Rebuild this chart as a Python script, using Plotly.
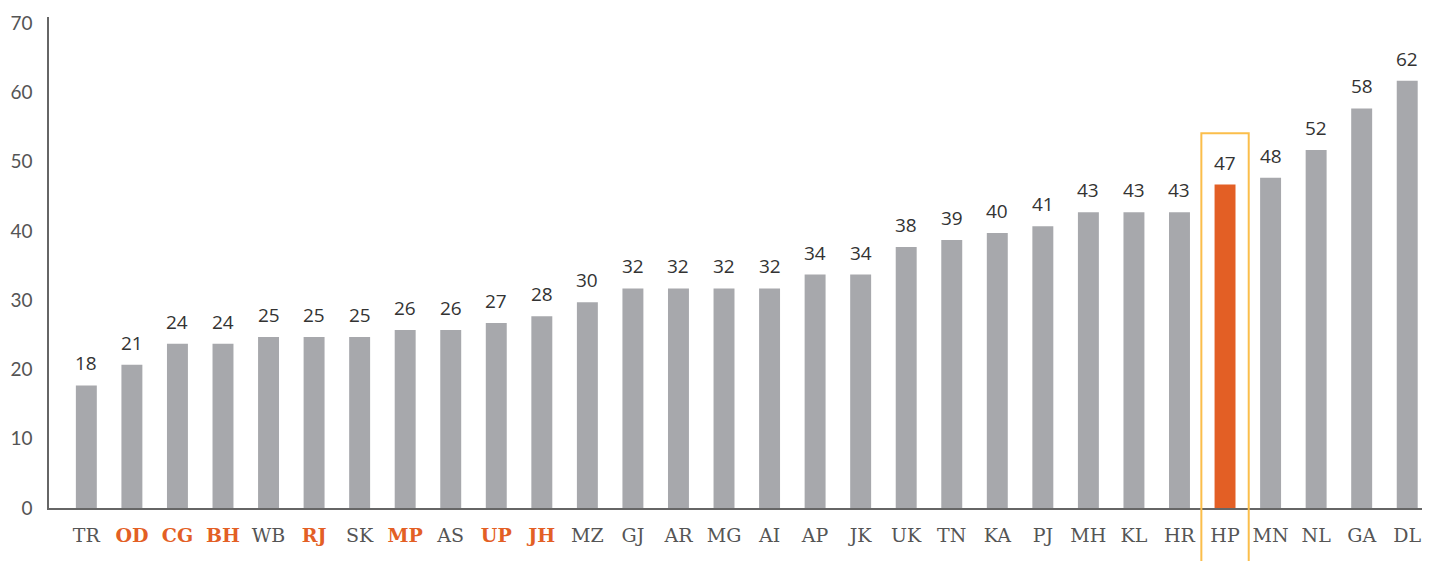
import plotly.graph_objects as go

categories = ["TR", "OD", "CG", "BH", "WB", "RJ", "SK", "MP", "AS", "UP", "JH", "MZ", "GJ", "AR", "MG",
              "AI", "AP", "JK", "UK", "TN", "KA", "PJ", "MH", "KL", "HR", "HP", "MN", "NL", "GA", "DL"]
values = [18, 21, 24, 24, 25, 25, 25, 26, 26, 27, 28, 30, 32, 32, 32,
          32, 34, 34, 38, 39, 40, 41, 43, 43, 43, 47, 48, 52, 58, 62]
highlight_labels = ["OD", "CG", "BH", "RJ", "MP", "UP", "JH"]
focus_state = "HP"
y_ticks = [0, 10, 20, 30, 40, 50, 60, 70]

GREY = "#A7A8AC"
ORANGE = "#E35F25"
BOX = "#FBBE4B"

bar_values = [v - 0.3 for v in values]
colors = [ORANGE if c == focus_state else GREY for c in categories]
ticktext = [f"<b><span style='color:{ORANGE}'>{c}</span></b>" if c in highlight_labels else c
            for c in categories]

x_range = [-0.82, len(categories) - 0.5]
y_range = [0, 70.9]
xs = list(range(len(categories)))

fig = go.Figure(go.Bar(
    x=xs, y=bar_values,
    marker=dict(color=colors, line=dict(width=0)),
    width=0.46,
    hoverinfo="skip",
))

for x, bv, v in zip(xs, bar_values, values):
    fig.add_annotation(x=x, y=bv, text=str(v), showarrow=False, yanchor="bottom", yshift=7,
                       font=dict(family="Open Sans", size=19, color="#333333"))

idx = categories.index(focus_state)
xspan = x_range[1] - x_range[0]
fig.add_shape(type="rect", xref="paper", yref="paper",
              x0=(idx - 0.52 - x_range[0]) / xspan, x1=(idx + 0.52 - x_range[0]) / xspan,
              y0=-0.2, y1=54.1 / y_range[1],
              line=dict(color=BOX, width=2), fillcolor="rgba(0,0,0,0)")

fig.update_layout(
    width=1422, height=553,
    margin=dict(l=41, r=0, t=9, b=53),
    paper_bgcolor="white", plot_bgcolor="white",
    showlegend=False,
    xaxis=dict(range=x_range, tickmode="array", tickvals=xs, ticktext=ticktext, automargin=False,
               showgrid=False, zeroline=False, showline=True, linecolor="#666666", linewidth=2,
               ticks="", ticklabelstandoff=9,
               tickfont=dict(family="DejaVu Serif", size=19, color="#555555")),
    yaxis=dict(range=y_range, tickvals=y_ticks, showgrid=False, zeroline=False, automargin=False,
               showline=True, linecolor="#666666", linewidth=1.5, ticks="", ticklabelstandoff=11,
               tickfont=dict(family="Lato", size=19, color="#555555")),
)

fig.write_html("out.html")
